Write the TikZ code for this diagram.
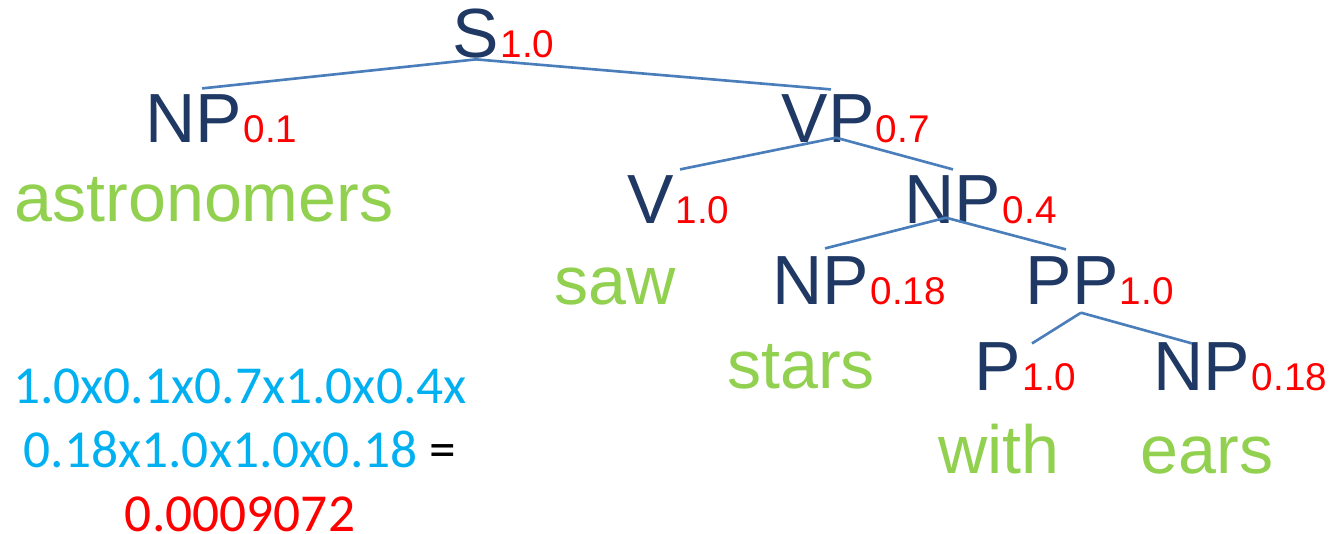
\documentclass[tikz,border=0pt]{standalone}
\usepackage{fontspec}
\setmainfont{Liberation Sans}
\newfontfamily\sumfont{Carlito}
\usetikzlibrary{calc}

\definecolor{catblue}{HTML}{1F3864}
\definecolor{probred}{HTML}{FF0000}
\definecolor{wordgreen}{HTML}{92D050}
\definecolor{sumblue}{HTML}{00B0F0}
\definecolor{edgeblue}{HTML}{4A7EBB}

\begin{document}
\begin{tikzpicture}[x=0.1mm, y=-0.1mm,
	cat/.style={text=catblue, font=\fontsize{19.8}{22}\selectfont, inner sep=0pt, anchor=base},
	prob/.style={text=probred, font=\fontsize{11}{13}\selectfont, inner sep=0pt, anchor=base west},
	word/.style={text=wordgreen, font=\fontsize{19.4}{22}\selectfont, inner sep=0pt, anchor=base},
	sum/.style={font=\sumfont\fontsize{15.2}{18.2}\selectfont, inner sep=0pt, align=center},
	edge/.style={draw=edgeblue, line width=0.75pt}]
		\useasboundingbox (0,0) rectangle (1330,534);

		% categories with their probabilities
		\node[cat] (s) at (476,58) {S};
		\node[prob] (sp) at (s.base east) {1.0};
		\node[cat] (np1) at (194,143) {NP};
		\node[prob] (np1p) at (np1.base east) {0.1};
		\node[cat] (vp) at (828,143) {VP};
		\node[prob] (vpp) at (vp.base east) {0.7};
		\node[cat] (v) at (651,224) {V};
		\node[prob] (vprob) at (v.base east) {1.0};
		\node[cat] (np2) at (953,224) {NP};
		\node[prob] (np2p) at (np2.base east) {0.4};
		\node[cat] (np3) at (821,305) {NP};
		\node[prob] (np3p) at (np3.base east) {0.18};
		\node[cat] (pp) at (1072,305) {PP};
		\node[prob] (ppp) at (pp.base east) {1.0};
		\node[cat] (p) at (998,391) {P};
		\node[prob] (pprob) at (p.base east) {1.0};
		\node[cat] (np4) at (1202,391) {NP};
		\node[prob] (np4p) at (np4.base east) {0.18};

		% words
		\node[word] (astro) at (204,222) {astronomers};
		\node[word] (saw) at (615,305) {saw};
		\node[word] (stars) at (801,388) {stars};
		\node[word] (with) at (999,473) {with};
		\node[word] (ears) at (1207,473) {ears};

		% branches
		\draw[edge] (s.south) -- ($(np1.north)+(8,-6)$);
		\draw[edge] (s.south) -- ($(vp.north)+(3,-5)$);
		\draw[edge] ($(vp.south)+(8,-6)$) -- ($(v.north)+(29,-6)$);
		\draw[edge] ($(vp.south)+(8,-6)$) -- ($(np2.north)+(0,-6)$);
		\draw[edge] ($(np2.south)+(-7,-7)$) -- ($(np3.north)+(4,-8)$);
		\draw[edge] ($(np2.south)+(-7,-7)$) -- ($(pp.north)+(-6,-7)$);
		\draw[edge] ($(pp.south)+(9,7)$) -- ($(p.north)+(34,1)$);
		\draw[edge] ($(pp.south)+(9,7)$) -- ($(np4.north)+(-10,1)$);

		% product of the rule probabilities
		\node[sum, anchor=north] (prod) at (240,368)
			{\textcolor{sumblue}{1.0x0.1x0.7x1.0x0.4x}\\
			 \textcolor{sumblue}{0.18x1.0x1.0x0.18} =\\
			 \textcolor{probred}{0.0009072}};
\end{tikzpicture}
\end{document}
